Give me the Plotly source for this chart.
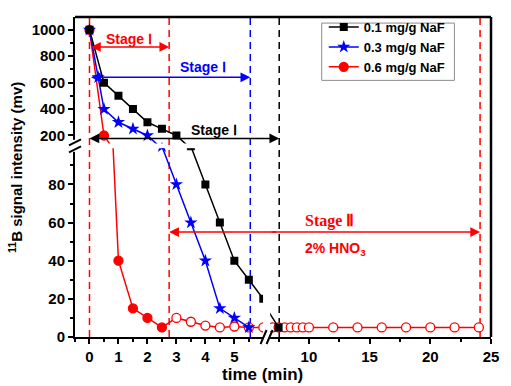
import plotly.graph_objects as go

# ---------------- data ----------------
t_01 = [0, 0.5, 1, 1.5, 2, 2.5, 3, 3.5, 4, 4.5, 5, 5.5, 6, 7.5]
s_01 = [1000, 600, 500, 400, 300, 250, 200, 100, 80, 60, 40, 30, 20, 5]

t_03 = [0, 0.3, 0.5, 1, 1.5, 2, 2.5, 3, 3.5, 4, 4.5, 5, 5.5]
s_03 = [1000, 640, 400, 300, 250, 200, 100, 80, 60, 40, 15, 10, 5]

t_06 = [0, 0.5, 1, 1.5, 2, 2.5, 3, 3.5, 4, 4.5, 5, 5.5, 6, 7, 7.5, 8, 8.5, 9, 9.5, 10,
        12, 14, 16, 18, 20, 22, 24]
s_06 = [1000, 200, 40, 15, 10, 5, 10, 8, 6, 5, 5.5, 5, 5, 5, 5, 5, 5, 5, 5, 5,
        5, 5, 5, 5, 5, 5, 5]
stage1_end_06 = 2.5   # filled markers up to here (Stage I), open afterwards

names = ["0.1 mg/g NaF", "0.3 mg/g NaF", "0.6 mg/g NaF"]

# stage boundaries (min)
b_red1, b_red2 = 0, 2.75
b_blue = 5.55
b_black = 7.55
b_red_end = 24.1

FONT = "Arial, Liberation Sans, sans-serif"
RED, BLUE, BLACK = "#ff0000", "#0000ff", "#000000"

fig = go.Figure()
pairs = [("x", "y"), ("x", "y2"), ("x2", "y"), ("x2", "y2")]

red_fill = [RED if t <= stage1_end_06 else "white" for t in t_06]
series = [
    (t_06, s_06, names[2], RED, dict(symbol="circle", size=9, color=red_fill,
                                     line=dict(color=RED, width=1.3)), 3),
    (t_03, s_03, names[1], BLUE, dict(symbol="star", size=10, color=BLUE,
                                      line=dict(color=BLUE, width=0)), 2),
    (t_01, s_01, names[0], BLACK, dict(symbol="square", size=8, color=BLACK), 1),
]
for i, (xa, ya) in enumerate(pairs):
    for tx, sy, nm, col, mk, rank in series:
        fig.add_trace(go.Scatter(
            x=tx, y=sy, xaxis=xa, yaxis=ya, mode="lines+markers", name=nm,
            line=dict(color=col, width=1.5), marker=mk, legendgroup=nm,
            legendrank=rank, showlegend=(i == 0), cliponaxis=True))

axis_common = dict(showline=True, linewidth=2, linecolor="black", showgrid=False,
                   zeroline=False, ticks="outside", ticklen=5, tickwidth=2,
                   tickcolor="black",
                   tickfont=dict(family=FONT, size=15, color="black", weight="bold"))

fig.update_layout(
    width=511, height=386,
    margin=dict(l=75, r=16, t=13, b=49),
    paper_bgcolor="white", plot_bgcolor="white",
    font=dict(family=FONT, color="black"),
    xaxis=dict(domain=[0, 0.452], range=[-0.5, 5.99], tick0=0, dtick=1, anchor="y",
               minor=dict(tick0=0, dtick=0.5, ticks="outside", ticklen=3,
                          tickwidth=1.5, tickcolor="black"), **axis_common),
    xaxis2=dict(domain=[0.469, 1], range=[6.8, 25], tick0=0, dtick=5, anchor="y",
                minor=dict(tick0=0, dtick=2.5, ticks="outside", ticklen=3,
                           tickwidth=1.5, tickcolor="black"), **axis_common),
    yaxis=dict(domain=[0, 0.59], range=[0, 99], tick0=0, dtick=20, anchor="x",
               minor=dict(tick0=0, dtick=10, ticks="outside", ticklen=3,
                          tickwidth=1.5, tickcolor="black"), **axis_common),
    yaxis2=dict(domain=[0.605, 1], range=[140, 1097], tick0=0, dtick=200, anchor="x",
                minor=dict(tick0=0, dtick=100, ticks="outside", ticklen=3,
                           tickwidth=1.5, tickcolor="black"), **axis_common),
    legend=dict(x=0.598, y=1.0154, xanchor="left", yanchor="top",
                bgcolor="rgba(0,0,0,0)", borderwidth=0,
                font=dict(family=FONT, size=13, color="black", weight="bold"),
                tracegroupgap=0, itemwidth=30),
    showlegend=True,
)

shapes = []
# legend frame
shapes.append(dict(type="rect", xref="paper", yref="paper", x0=0.593, x1=0.912,
                   y0=0.802, y1=0.981, fillcolor="white", layer="below",
                   line=dict(color="#8c8c8c", width=1)))
# frame: top and right borders
shapes.append(dict(type="line", xref="paper", yref="paper", x0=0, x1=1, y0=1, y1=1,
                   line=dict(color="black", width=2.5)))
shapes.append(dict(type="line", xref="paper", yref="paper", x0=1, x1=1, y0=0, y1=1,
                   line=dict(color="black", width=2.5)))
# vertical dashed stage boundaries
for xv, xr, col in [(b_red1, "x", RED), (b_red2, "x", RED), (b_blue, "x", BLUE),
                    (b_black, "x2", BLACK), (b_red_end, "x2", RED)]:
    shapes.append(dict(type="line", xref=xr, yref="paper", x0=xv, x1=xv, y0=0, y1=1,
                       layer="below", line=dict(color=col, width=1.5, dash="7px,5px")))
# y-axis break: white gap + two slanted marks
ymid = (0.59 + 0.605) / 2
shapes.append(dict(type="rect", xref="paper", yref="paper", xsizemode="pixel",
                   ysizemode="pixel", xanchor=0, yanchor=ymid, x0=-2, x1=2, y0=-6, y1=6,
                   fillcolor="white", line=dict(width=0)))
for dy in (-3.5, 3.5):
    shapes.append(dict(type="line", xref="paper", yref="paper", xsizemode="pixel",
                       ysizemode="pixel", xanchor=0, yanchor=ymid,
                       x0=-6, x1=6, y0=dy - 3, y1=dy + 3,
                       line=dict(color="black", width=2)))
# x-axis break marks
xmid = (0.452 + 0.469) / 2
for dx in (-3, 3):
    shapes.append(dict(type="line", xref="paper", yref="paper", xsizemode="pixel",
                       ysizemode="pixel", xanchor=xmid, yanchor=0,
                       x0=dx - 3, x1=dx + 3, y0=-7, y1=7,
                       line=dict(color="black", width=2)))
fig.update_layout(shapes=shapes)


def arrow(xh, yh, xt, xref, yref, color, both=False):
    return dict(x=xh, y=yh, ax=xt, ay=yh, xref=xref, yref=yref, axref=xref, ayref=yref,
                text="", showarrow=True, arrowhead=2, arrowsize=1.3, arrowwidth=1.5,
                arrowcolor=color, arrowside="end+start" if both else "end")


ann = []
# Stage I arrows
ann.append(arrow(b_red2, 870, b_red1, "x", "y2", RED, both=True))
ann.append(arrow(b_blue, 640, b_red1, "x", "y2", BLUE, both=True))
ann.append(arrow(0, 178, 6.5, "x", "y2", BLACK))
ann.append(arrow(b_black, 178, 6.8, "x2", "y2", BLACK))
# Stage II arrow
ann.append(arrow(b_red2, 55, 6.5, "x", "y", RED))
ann.append(arrow(b_red_end, 55, 6.8, "x2", "y", RED))


def label(txt, x, y, xref, yref, color, size=14, family=FONT):
    return dict(text=txt, x=x, y=y, xref=xref, yref=yref, showarrow=False,
                font=dict(family=family, size=size, color=color, weight="bold"),
                xanchor="center", yanchor="middle")


ann.append(label("Stage Ⅰ", 1.37, 933, "x", "y2", RED))
ann.append(label("Stage Ⅰ", 3.93, 716, "x", "y2", BLUE))
ann.append(label("Stage Ⅰ", 4.3, 245, "x", "y2", BLACK))
ann.append(label("Stage Ⅱ", 11.7, 61, "x2", "y", RED, size=16,
                 family="Times New Roman, Liberation Serif, serif"))
ann.append(label("2% HNO<sub>3</sub>", 12.2, 46, "x2", "y", RED, size=14))
# axis titles
ann.append(dict(text="<sup>11</sup>B signal intensity (mv)", x=-0.143, y=0.53,
                xref="paper", yref="paper", showarrow=False, textangle=-90,
                font=dict(family=FONT, size=15, color="black", weight="bold"),
                xanchor="center", yanchor="middle"))
ann.append(dict(text="time (min)", x=0.45, y=-0.117, xref="paper", yref="paper",
                showarrow=False, font=dict(family=FONT, size=17, color="black",
                                           weight="bold"),
                xanchor="center", yanchor="middle"))
fig.update_layout(annotations=ann)

fig.write_html("out.html", config={"displayModeBar": False},
               post_script="document.body.style.margin='0';"
                           "document.body.style.overflow='hidden';")
